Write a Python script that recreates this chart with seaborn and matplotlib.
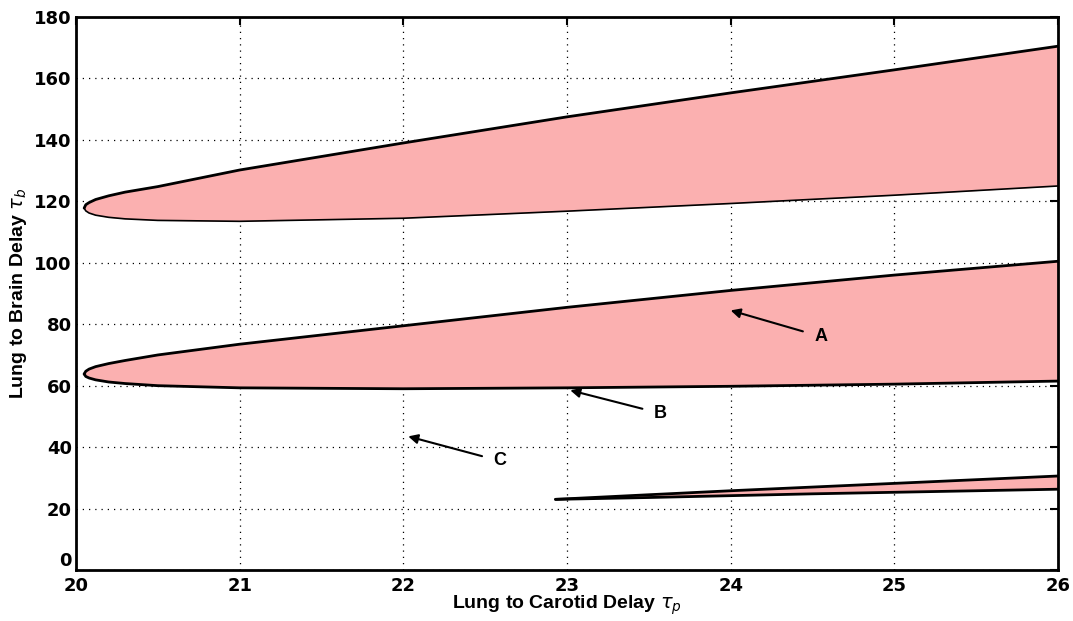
import matplotlib
matplotlib.use("Agg")
import matplotlib.pyplot as plt
import seaborn as sns
import pandas as pd

# region boundaries (x = lung to carotid delay)
top_x = [20.05, 20.06, 20.08, 20.12, 20.2, 20.3, 20.5, 21, 22, 23, 24, 25, 26]
top_upper = [117.8, 118.9, 119.6, 120.6, 121.8, 123.0, 124.8, 130.2, 139.0, 147.5, 155.3, 162.8, 170.5]
top_lower = [117.8, 116.9, 116.2, 115.5, 114.8, 114.3, 113.8, 113.5, 114.5, 116.8, 119.3, 122.0, 125.0]

mid_x = [20.05, 20.06, 20.08, 20.12, 20.2, 20.3, 20.5, 21, 22, 23, 24, 25, 26]
mid_upper = [63.8, 64.7, 65.4, 66.2, 67.2, 68.2, 70.0, 73.5, 79.5, 85.5, 91.0, 96.0, 100.5]
mid_lower = [63.8, 63.0, 62.5, 61.9, 61.2, 60.7, 60.0, 59.3, 59.0, 59.3, 59.8, 60.5, 61.5]

bot_x = [22.93, 23.5, 24, 24.5, 25, 25.5, 26]
bot_upper = [23.0, 24.5, 25.8, 27.0, 28.2, 29.4, 30.6]
bot_lower = [23.0, 23.6, 24.2, 24.8, 25.3, 25.8, 26.3]

labels = ["A", "B", "C"]
label_xy = [(24.55, 76.0), (23.57, 51.0), (22.59, 35.5)]
arrow_xy = [(24.0, 84.5), (23.02, 58.5), (22.03, 43.5)]

x_ticks = [20, 21, 22, 23, 24, 25, 26]
y_ticks = [0, 20, 40, 60, 80, 100, 120, 140, 160, 180]

sns.set_style("white")
plt.rcParams["font.family"] = ["Liberation Sans", "DejaVu Sans"]
plt.rcParams["mathtext.fontset"] = "dejavusans"
plt.rcParams["text.color"] = "black"
plt.rcParams["axes.labelcolor"] = "black"
plt.rcParams["xtick.color"] = "black"
plt.rcParams["ytick.color"] = "black"

fig = plt.figure(figsize=(10.73, 6.21), dpi=100)
ax = fig.add_axes([0.0708, 0.0821, 0.9152, 0.8905])

fill = "#fbb0b0"
regions = [
    (top_x, top_upper, top_lower, 2.0, 1.2),
    (mid_x, mid_upper, mid_lower, 2.0, 2.0),
    (bot_x, bot_upper, bot_lower, 2.0, 2.0),
]
for xs, up, lo, lw_up, lw_lo in regions:
    ax.fill_between(xs, lo, up, color=fill, linewidth=0, zorder=2)
    df_up = pd.DataFrame({"x": xs, "y": up})
    df_lo = pd.DataFrame({"x": xs, "y": lo})
    sns.lineplot(data=df_up, x="x", y="y", ax=ax, color="black",
                 linewidth=lw_up, sort=False, estimator=None, zorder=3,
                 solid_joinstyle="round", solid_capstyle="round")
    sns.lineplot(data=df_lo, x="x", y="y", ax=ax, color="black",
                 linewidth=lw_lo, sort=False, estimator=None, zorder=3,
                 solid_joinstyle="round", solid_capstyle="round")

for lab, txy, axy in zip(labels, label_xy, arrow_xy):
    ax.annotate(lab, xy=axy, xytext=txy, fontsize=13, fontweight="bold",
                ha="center", va="center", color="black",
                arrowprops=dict(arrowstyle="-|>", color="black", lw=1.5,
                                mutation_scale=14, shrinkA=6, shrinkB=0),
                zorder=4)

ax.set_xlim(20, 26)
ax.set_ylim(0, 180)
ax.set_xticks(x_ticks)
ax.set_yticks(y_ticks)
ax.grid(True, color="black", linestyle=(0, (1, 4)), linewidth=0.9)
ax.set_axisbelow(True)
for sp in ax.spines.values():
    sp.set_visible(True)
    sp.set_color("black")
    sp.set_linewidth(2)
ax.tick_params(direction="in", length=6, width=1.5, top=True, right=True,
               labelsize=13, pad=3, colors="black")
ax.tick_params(axis="x", pad=5)
for t in ax.get_xticklabels() + ax.get_yticklabels():
    t.set_fontweight("bold")
    t.set_family(["DejaVu Sans"])
# keep the "0" clear of the "20" below it, as in the original corner
ax.get_yticklabels()[0].set_va("bottom")

ax.set_xlabel(r"Lung to Carotid Delay $\tau_p$", fontsize=14,
              fontweight="bold", labelpad=-1, color="black")
ax.set_ylabel(r"Lung to Brain Delay $\tau_b$", fontsize=14,
              fontweight="bold", labelpad=4, color="black")

fig.savefig("out.png", dpi=100)
